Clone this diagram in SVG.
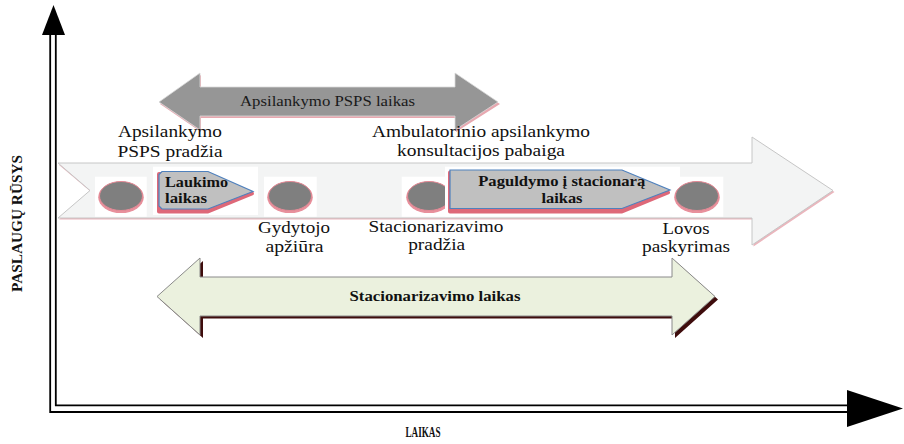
<svg xmlns="http://www.w3.org/2000/svg" width="904" height="444" viewBox="0 0 904 444">
  <style>
    .lbl { font-family: "Liberation Serif", "Times New Roman", "DejaVu Serif", serif; font-size: 17px; fill: #111; text-anchor: middle; }
    .bold { font-family: "Liberation Serif", "Times New Roman", "DejaVu Serif", serif; font-weight: bold; fill: #111; }
    .axis { stroke: #000; stroke-width: 1.8; fill: none; }
    .bg { fill: #fff; }
    .dotShadow { fill: #e8909c; }
    .dot { fill: #7f7f7f; stroke: #e48a96; stroke-width: 1; }
    .tabShadow { fill: #de6878; stroke: #de6878; stroke-width: 4; stroke-linejoin: round; }
    .tab { fill: #c0c0c0; stroke: #4f81bd; stroke-width: 1.2; }
  </style>

  <!-- Axes -->
  <g id="axes">
    <polyline class="axis" points="50.2,34 50.2,412 847,412"/>
    <polyline class="axis" points="55.8,34 55.8,405.3 847,405.3"/>
    <polygon points="53.5,5 42,35 65,35" fill="#000"/>
    <polygon points="847,390 903,408.5 847,427" fill="#000"/>
    <text class="bold" font-size="15" text-anchor="middle" textLength="137" lengthAdjust="spacingAndGlyphs" transform="translate(21.5,223.5) rotate(-90)">PASLAUGŲ RŪSYS</text>
    <text class="bold" font-size="14" x="423" y="437" text-anchor="middle" textLength="35" lengthAdjust="spacingAndGlyphs">LAIKAS</text>
  </g>

  <!-- Span arrows and the timeline band -->
  <g id="connectors">
    <!-- timeline band -->
    <g id="timeline">
      <polygon points="59,165 753.5,165 753.5,139 834.5,192 753.5,246.5 753.5,219.5 59,219.5 91,192" fill="#ebb6bd"/>
      <polygon points="58,163 752,163 752,137 833,190.5 752,245 752,218 58,218 90,190.5" fill="#f3f4f4" stroke="#c6c6c6" stroke-width="1"/>
    </g>
    <!-- visit span -->
    <g id="visit-span">
      <polygon points="160,104 201,75 201,89 456,89 456,75 500,104 456,132 456,118 201,118 201,132" fill="#e7a8b0"/>
      <polygon points="159,102 200,73 200,87 455,87 455,73 498,102 455,130 455,116 200,116 200,130" fill="#969696" stroke="#d8d8d8" stroke-width="0.8"/>
      <text x="327.5" y="106" font-family="Liberation Serif, Times New Roman, serif" font-size="15" fill="#1a1a1a" text-anchor="middle" textLength="175" lengthAdjust="spacingAndGlyphs">Apsilankymo PSPS laikas</text>
    </g>
    <!-- inpatient span -->
    <g id="inpatient-span">
      <polygon points="160,299.5 203,261 203,279.5 675,279.5 675,261 718,299.5 675,338 675,318.5 203,318.5 203,338" fill="#3e0c0c"/>
      <polygon points="157,296.5 200,258 200,277 672,277 672,258 715,296.5 672,335 672,316 200,316 200,335" fill="#ebf1de" stroke="#8a8a8a" stroke-width="1"/>
      <text class="bold" x="435" y="301" font-size="14" text-anchor="middle" textLength="171" lengthAdjust="spacingAndGlyphs">Stacionarizavimo laikas</text>
    </g>
  </g>

  <!-- Event: visit start -->
  <g id="visit-start">
    <rect class="bg" x="95" y="176.7" width="51.7" height="40"/>
    <ellipse class="dotShadow" cx="121" cy="197.3" rx="22.8" ry="15.8"/>
    <ellipse class="dot" cx="121" cy="196" rx="21.5" ry="14.5"/>
    <text class="lbl" x="170" y="136.5" textLength="104" lengthAdjust="spacingAndGlyphs">Apsilankymo</text>
    <text class="lbl" x="170" y="156.5" textLength="105" lengthAdjust="spacingAndGlyphs">PSPS pradžia</text>
  </g>

  <!-- Waiting time -->
  <g id="waiting-time">
    <rect class="bg" x="153" y="166.7" width="105" height="48.3"/>
    <polygon class="tabShadow" points="159,174 208,174 252,193.5 208,211.5 159,211.5"/>
    <polygon class="tab" points="162,171.5 208,171.5 253,191.5 208,209 162,209 159,206 159,174.5"/>
    <text class="bold" x="165" y="186.7" font-size="14" textLength="63" lengthAdjust="spacingAndGlyphs">Laukimo</text>
    <text class="bold" x="165" y="203" font-size="14" textLength="42" lengthAdjust="spacingAndGlyphs">laikas</text>
  </g>

  <!-- Event: doctor examination -->
  <g id="doctor-exam">
    <rect class="bg" x="264" y="176.7" width="52.7" height="40"/>
    <ellipse class="dotShadow" cx="290" cy="197.3" rx="22.8" ry="15.8"/>
    <ellipse class="dot" cx="290" cy="196" rx="21.5" ry="14.5"/>
    <text class="lbl" x="294" y="232.5" textLength="72" lengthAdjust="spacingAndGlyphs">Gydytojo</text>
    <text class="lbl" x="294.5" y="251.5" textLength="58" lengthAdjust="spacingAndGlyphs">apžiūra</text>
  </g>

  <!-- Event: consultation end -->
  <g id="consultation-end">
    <text class="lbl" x="481" y="136.5" textLength="218" lengthAdjust="spacingAndGlyphs">Ambulatorinio apsilankymo</text>
    <text class="lbl" x="481" y="156" textLength="168" lengthAdjust="spacingAndGlyphs">konsultacijos pabaiga</text>
  </g>

  <!-- Event: inpatient start -->
  <g id="inpatient-start">
    <rect class="bg" x="401.7" y="176.7" width="53.3" height="40"/>
    <ellipse class="dotShadow" cx="429" cy="197.3" rx="22.8" ry="15.8"/>
    <ellipse class="dot" cx="429" cy="196" rx="21.5" ry="14.5"/>
    <text class="lbl" x="436" y="231.5" textLength="135" lengthAdjust="spacingAndGlyphs">Stacionarizavimo</text>
    <text class="lbl" x="436.7" y="250" textLength="57" lengthAdjust="spacingAndGlyphs">pradžia</text>
  </g>

  <!-- Admission time -->
  <g id="admission-time">
    <rect class="bg" x="445" y="166.7" width="235" height="50"/>
    <polygon class="tabShadow" points="450,172.5 622,172.5 668,192.5 622,211.5 450,211.5"/>
    <polygon class="tab" points="450,170 622,170 670,190 622,208.5 450,208.5"/>
    <text class="bold" x="561.7" y="186" font-size="14" text-anchor="middle" textLength="167" lengthAdjust="spacingAndGlyphs">Paguldymo į stacionarą</text>
    <text class="bold" x="562" y="202.7" font-size="14" text-anchor="middle" textLength="41" lengthAdjust="spacingAndGlyphs">laikas</text>
  </g>

  <!-- Event: bed assignment -->
  <g id="bed-assignment">
    <rect class="bg" x="671.7" y="176.7" width="51.6" height="40"/>
    <ellipse class="dotShadow" cx="697" cy="197.3" rx="22.8" ry="15.8"/>
    <ellipse class="dot" cx="697" cy="196" rx="21.5" ry="14.5"/>
    <text class="lbl" x="686" y="234" textLength="47" lengthAdjust="spacingAndGlyphs">Lovos</text>
    <text class="lbl" x="686" y="251.5" textLength="88" lengthAdjust="spacingAndGlyphs">paskyrimas</text>
  </g>
</svg>
